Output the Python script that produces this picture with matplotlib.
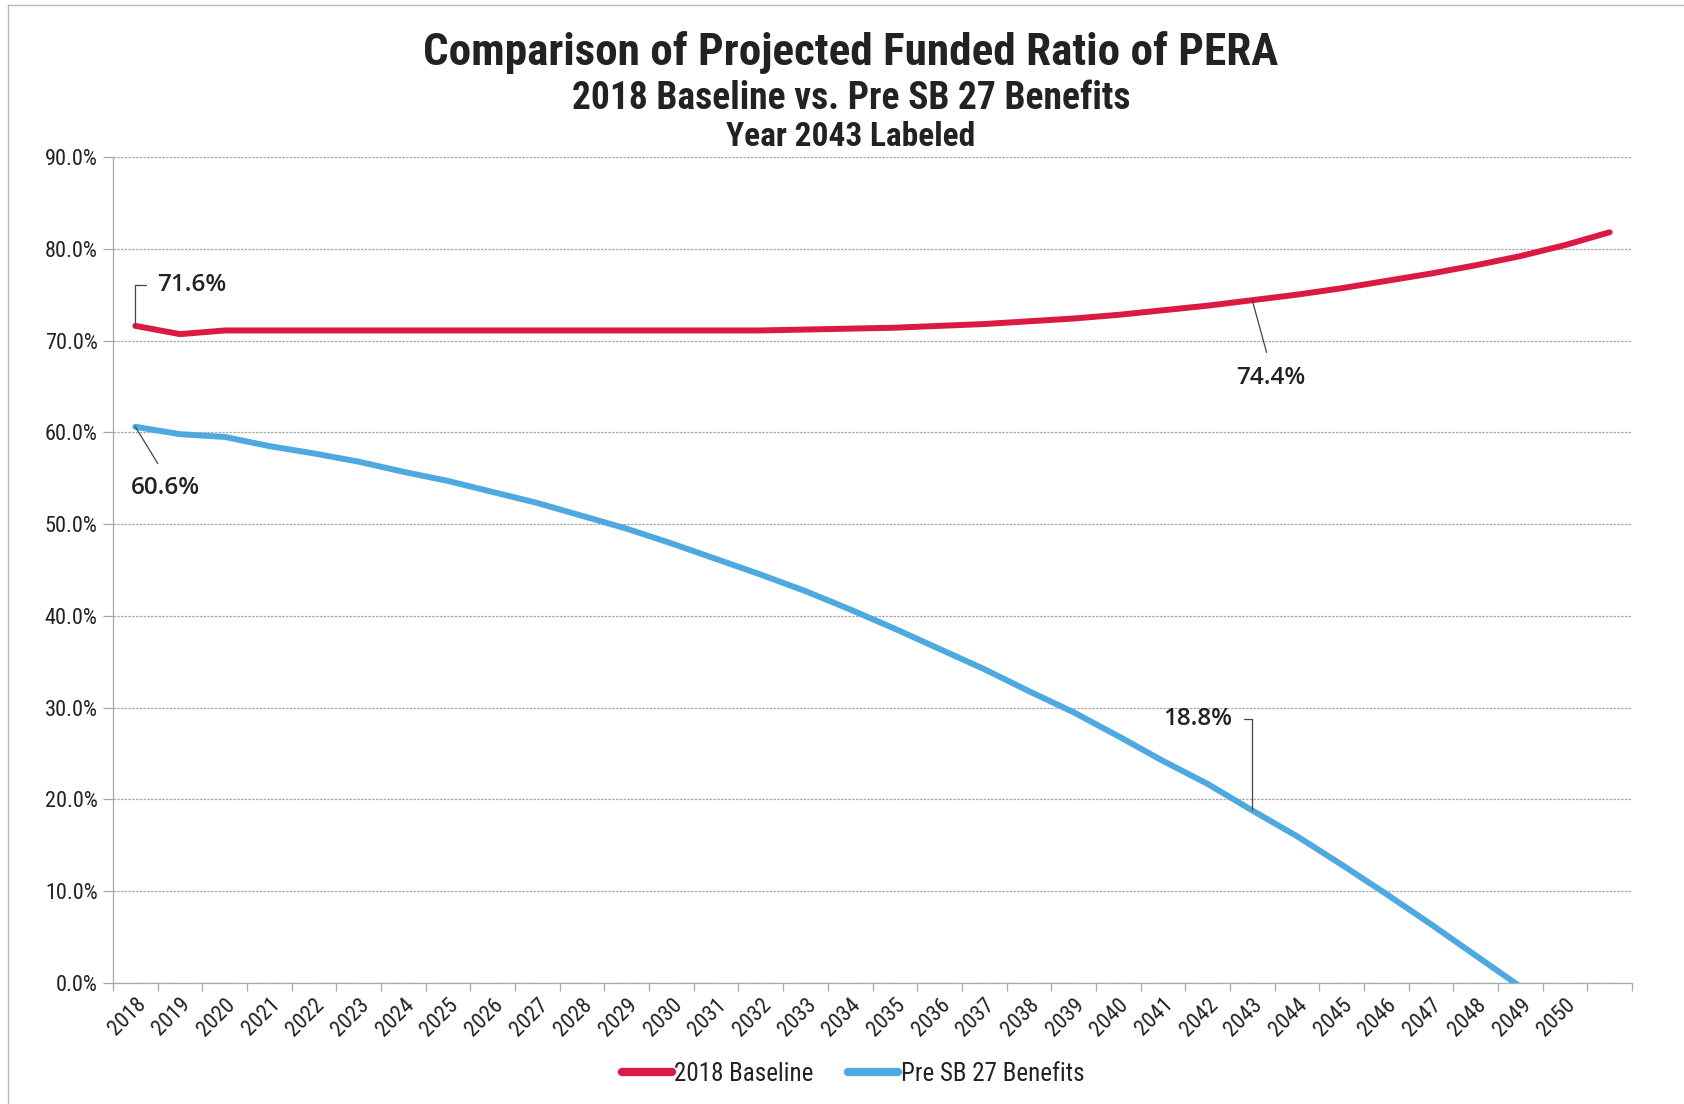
"""
Comparison of Projected Funded Ratio of PERA
2018 Baseline vs. Pre SB 27 Benefits (year 2043 labeled)
Output: out.png
"""
import numpy as np
import matplotlib
matplotlib.use("Agg")
import matplotlib.pyplot as plt
from matplotlib import font_manager as fm
from matplotlib.ticker import FixedLocator, NullFormatter

AVAIL = {f.name for f in fm.fontManager.ttflist}
NARROW, STRETCH = 'Liberation Sans', 'normal'
for cand in ['Liberation Sans Narrow', 'Roboto Condensed', 'Noto Sans Condensed',
             'DejaVu Sans Condensed', 'Open Sans Condensed']:
    if cand in AVAIL:
        NARROW = cand
        break
else:
    for f in fm.fontManager.ttflist:
        if f.name in ('Noto Sans', 'DejaVu Sans', 'Roboto', 'Open Sans') and \
                str(f.stretch) in ('condensed', 'semi-condensed', '75', '87'):
            NARROW, STRETCH = f.name, 'condensed'
            break
LABEL_FONT = 'Open Sans' if 'Open Sans' in AVAIL else 'DejaVu Sans'
IS_NARROW = NARROW != 'Liberation Sans'
NF = dict(fontfamily=NARROW, fontstretch=STRETCH)

# ── dados ────────────────────────────────────────────────────────────────
YEARS = list(range(2018, 2052))
YEAR_LABELS = [str(y) for y in range(2018, 2051)] + ['']
BASELINE = [71.6, 70.7, 71.1, 71.1, 71.1, 71.1, 71.1, 71.1, 71.1, 71.1,
            71.1, 71.1, 71.1, 71.1, 71.1, 71.2, 71.3, 71.4, 71.6, 71.8,
            72.1, 72.4, 72.8, 73.3, 73.8, 74.4, 75.0, 75.7, 76.5, 77.3,
            78.2, 79.2, 80.4, 81.8]
PRE_SB27 = [60.6, 59.8, 59.5, 58.5, 57.7, 56.8, 55.7, 54.7, 53.5, 52.3,
            50.9, 49.5, 47.9, 46.2, 44.5, 42.7, 40.7, 38.6, 36.4, 34.2,
            31.8, 29.5, 26.9, 24.2, 21.7, 18.8, 16.0, 12.9, 9.7, 6.4,
            3.0, -0.4, np.nan, np.nan]
Y_TICKS = [0, 10, 20, 30, 40, 50, 60, 70, 80, 90]
SERIES_NAMES = ['2018 Baseline', 'Pre SB 27 Benefits']

RED = '#DA1A42'
BLUE = '#4DA9DF'
GRID = '#A8A8A8'
TXT = '#222222'

# tamanhos: fonte estreita pode ser maior
TICK_FS = 16 if IS_NARROW else 14
LEG_FS = 18 if IS_NARROW else 16.5
T1, T2, T3 = (32.5, 27, 24) if IS_NARROW else (27, 22, 19.5)

W, H = 1684, 1104
fig = plt.figure(figsize=(W / 100, H / 100), dpi=100)
fig.patch.set_facecolor('white')
ax = fig.add_axes([113 / W, 1 - 983 / H, (1632 - 113) / W, (983 - 157) / H])

x = np.arange(len(YEARS))
l1, = ax.plot(x, BASELINE, color=RED, lw=4.3, solid_capstyle='round',
              solid_joinstyle='round', zorder=3)
l2, = ax.plot(x, PRE_SB27, color=BLUE, lw=4.3, solid_capstyle='round',
              solid_joinstyle='round', zorder=3)

ax.set_xlim(-0.5, len(YEARS) - 0.5)
ax.set_ylim(0, 90)

# ── eixos ────────────────────────────────────────────────────────────────
ax.set_yticks(Y_TICKS)
ax.set_yticklabels([f'{v:.1f}%' for v in Y_TICKS], fontsize=TICK_FS,
                   color=TXT, **NF)
ax.yaxis.grid(True, color=GRID, lw=0.9, ls=(0, (2, 1)))
ax.tick_params(axis='y', length=7, width=0.9, color=GRID, pad=4)

ax.xaxis.set_major_locator(FixedLocator(np.arange(len(YEARS) + 1) - 0.5))
ax.xaxis.set_major_formatter(NullFormatter())
ax.xaxis.set_minor_locator(FixedLocator(x))
ax.set_xticklabels(YEAR_LABELS, minor=True, rotation=45, ha='right',
                   va='top', rotation_mode='anchor', fontsize=TICK_FS,
                   color=TXT, **NF)
ax.tick_params(axis='x', which='major', length=6, width=0.9, color=GRID)
ax.tick_params(axis='x', which='minor', length=0, pad=8)

for s in ['top', 'right']:
    ax.spines[s].set_visible(False)
ax.spines['left'].set_color(GRID)
ax.spines['bottom'].set_color(GRID)
ax.spines['left'].set_linewidth(0.9)
ax.spines['bottom'].set_linewidth(0.9)
ax.set_axisbelow(True)

# ── rótulos de dados ─────────────────────────────────────────────────────
lab = dict(fontfamily=LABEL_FONT, fontsize=17.5, fontweight='semibold',
           color=TXT, textcoords='offset points')
leader = dict(arrowstyle='-', color='#444444', lw=0.9, shrinkB=0)

i18 = 0
i43 = YEARS.index(2043)
ax.annotate(f'{BASELINE[i18]:.1f}%', (x[i18], BASELINE[i18]), xytext=(15.6, 29.5),
            ha='left', va='center',
            arrowprops=dict(leader, connectionstyle='angle,angleA=0,angleB=90,rad=0',
                            relpos=(0, 0.5), shrinkA=6), **lab)
ax.annotate(f'{PRE_SB27[i18]:.1f}%', (x[i18], PRE_SB27[i18]), xytext=(21.6, -44),
            ha='center', va='center',
            arrowprops=dict(leader, relpos=(0.5, 1), shrinkA=8), **lab)
ax.annotate(f'{BASELINE[i43]:.1f}%', (x[i43], BASELINE[i43]), xytext=(13, -56),
            ha='center', va='center',
            arrowprops=dict(leader, relpos=(0.5, 1), shrinkA=8), **lab)
ax.annotate(f'{PRE_SB27[i43]:.1f}%', (x[i43], PRE_SB27[i43]), xytext=(-14.2, 66),
            ha='right', va='center',
            arrowprops=dict(leader, connectionstyle='angle,angleA=0,angleB=90,rad=0',
                            relpos=(1, 0.5), shrinkA=6), **lab)

# ── títulos ──────────────────────────────────────────────────────────────
cx = 851 / W
fig.text(cx, 1 - 52 / H, 'Comparison of Projected Funded Ratio of PERA',
         ha='center', va='center', fontweight='bold', fontsize=T1, color=TXT, **NF)
fig.text(cx, 1 - 98 / H, '2018 Baseline vs. Pre SB 27 Benefits',
         ha='center', va='center', fontweight='bold', fontsize=T2, color=TXT, **NF)
fig.text(cx, 1 - 137 / H, 'Year 2043 Labeled',
         ha='center', va='center', fontweight='bold', fontsize=T3, color=TXT, **NF)

# ── legenda ──────────────────────────────────────────────────────────────
leg = fig.legend([l1, l2], SERIES_NAMES, loc='center', ncol=2,
                 bbox_to_anchor=(853 / W, 1 - 1074 / H), frameon=False,
                 prop=fm.FontProperties(family=NARROW, stretch=STRETCH, size=LEG_FS),
                 labelcolor=TXT, handlelength=2.0, handletextpad=0.1,
                 columnspacing=1.4)
for h in leg.get_lines():
    h.set_linewidth(6)

# moldura da área do gráfico
fig.add_artist(plt.Line2D([8 / W, 1], [1 - 5 / H, 1 - 5 / H], color='#BBBBBB', lw=1))
fig.add_artist(plt.Line2D([8 / W, 8 / W], [0, 1 - 5 / H], color='#BBBBBB', lw=1))

fig.savefig('out.png', dpi=100, facecolor='white')
print('font:', NARROW, STRETCH)
